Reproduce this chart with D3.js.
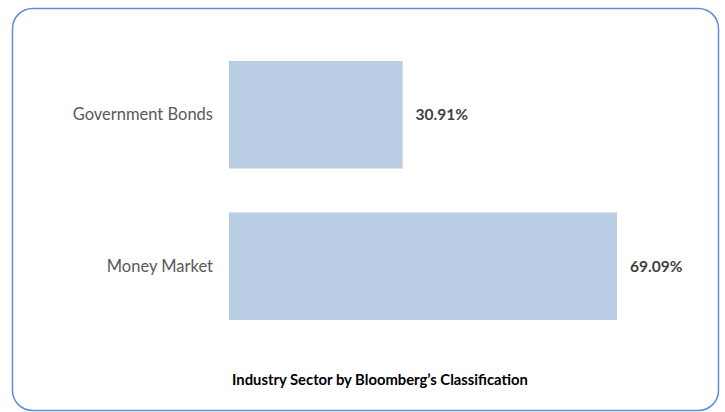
<!DOCTYPE html>
<html>
<head>
<meta charset="utf-8">
<script src="https://cdn.jsdelivr.net/npm/d3@7"></script>
<style>
  body { margin: 0; background: #fff; }
  svg { display: block; font-family: Lato, "Open Sans", sans-serif; }
</style>
</head>
<body>
<svg id="svg1"></svg>
<script>
// chart data
var categories = ["Government Bonds", "Money Market"];
var values = [30.91, 69.09];
var title = "Industry Sector by Bloomberg\u2019s Classification";

var width = 725, height = 412;

var svg = d3.select("#svg1")
  .attr("width", width)
  .attr("height", height);

// rounded frame
svg.append("rect")
  .attr("x", 12.5)
  .attr("y", 8.5)
  .attr("width", 706)
  .attr("height", 402)
  .attr("rx", 20)
  .attr("ry", 20)
  .style("fill", "#fff")
  .style("stroke", "#5b8fd6")
  .style("stroke-width", 1.5);

var data = categories.map(function(c, i){ return {label: c, value: values[i]}; });

// x scale: 0 at the axis, bars grow right
var x = d3.scaleLinear()
  .domain([0, 69.09])
  .range([229, 617]);

var y = d3.scaleBand()
  .domain(categories)
  .range([39, 342])
  .paddingInner(0.29)
  .paddingOuter(0.145);

// category labels
svg.append("g")
  .attr("transform", "translate(" + x(0) + ",0)")
  .style("font-size", "16.5px")
  .call(d3.axisLeft(y).tickSize(0).tickPadding(16))
  .call(function(g){ g.select(".domain").remove(); })
  .selectAll("text")
    .style("fill", "#595959")
    .style("font-family", "Lato, 'Open Sans', sans-serif");

// bars
svg.selectAll(".bar")
  .data(data)
  .enter()
  .append("rect")
    .attr("class", "bar")
    .attr("x", x(0))
    .attr("y", function(d){ return y(d.label); })
    .attr("width", function(d){ return x(d.value) - x(0); })
    .attr("height", y.bandwidth())
    .style("fill", "#b9cde5");

// value labels
svg.selectAll(".val")
  .data(data)
  .enter()
  .append("text")
    .attr("class", "val")
    .attr("x", function(d){ return x(d.value) + 13; })
    .attr("y", function(d){ return y(d.label) + y.bandwidth()/2; })
    .attr("dy", "0.35em")
    .text(function(d){ return d.value.toFixed(2) + "%"; })
    .style("font-size", "15.5px")
    .style("font-weight", "bold")
    .style("fill", "#404040");

// title
svg.append("text")
  .attr("x", 380)
  .attr("y", 385)
  .attr("text-anchor", "middle")
  .text(title)
  .style("font-size", "14.8px")
  .style("font-weight", "bold")
  .style("fill", "#000");
</script>
</body>
</html>
